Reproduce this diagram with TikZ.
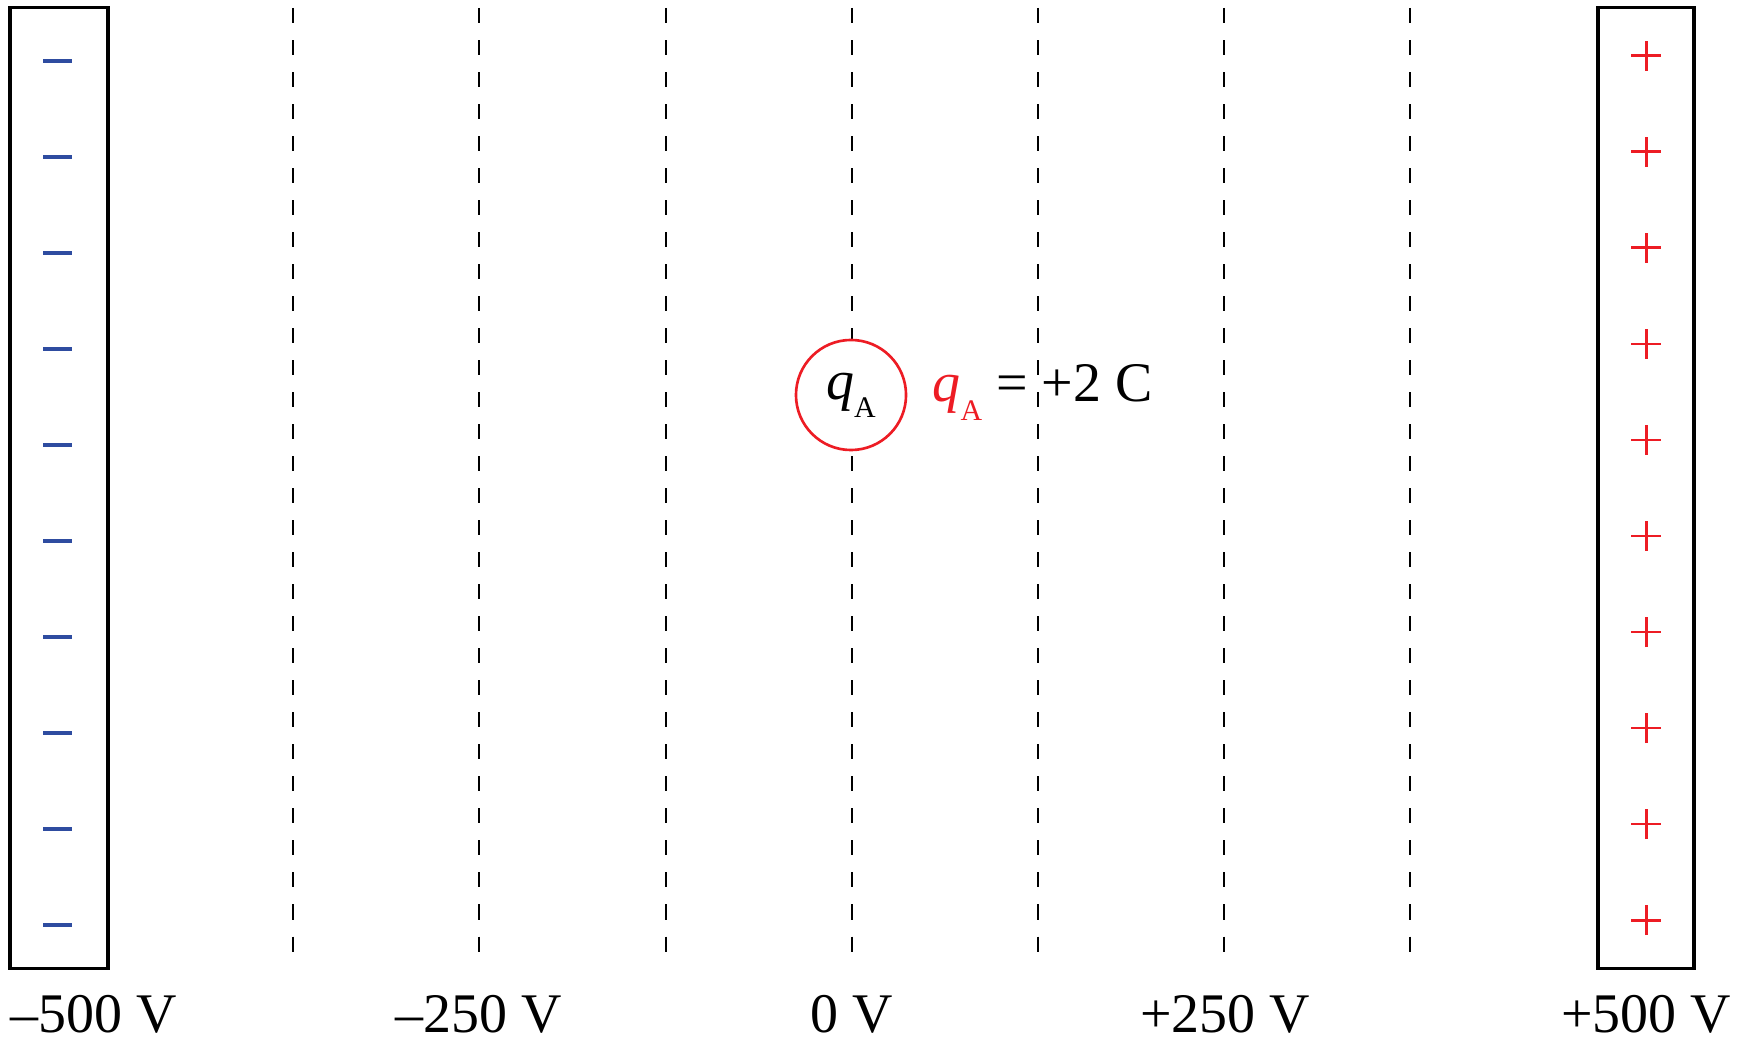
\documentclass[tikz,border=0pt]{standalone}
\usepackage{fontspec}
\setmainfont{Liberation Serif}
\usetikzlibrary{positioning}
\definecolor{plusred}{RGB}{237,28,36}
\definecolor{minusblue}{RGB}{46,76,160}
\tikzset{
  plate/.style={draw=black,line width=0.9pt,inner sep=0pt},
  equip/.style={black,line width=0.7pt,dash pattern=on 0.15cm off 0.17cm},
  minussign/.style={minusblue,line width=0.95pt},
  plussign/.style={plusred,line width=0.85pt},
  charge/.style={circle,draw=plusred,fill=white,line width=0.75pt,
                 minimum size=1.1cm,inner sep=0pt},
  lab/.style={font=\fontsize{15.9}{18}\selectfont,inner sep=0pt},
}
\newcommand{\qA}{\textit{q}\raisebox{-0.18cm}{\fontsize{8.5}{10}\selectfont A}}

\begin{document}
\begin{tikzpicture}[x=0.01cm,y=0.01cm]
  \path[use as bounding box] (0,0) rectangle (1752,1039);

  % equipotential lines
  \foreach \xx in {293,479,666,852,1038,1224,1410}
    \draw[equip] (\xx,1031) -- (\xx,87);

  % plates
  \node[plate,minimum width=0.98cm,minimum height=9.6cm] (neg) at (59,551) {};
  \node[plate,minimum width=0.96cm,minimum height=9.6cm] (pos) at (1646,551) {};
  \foreach \k in {0,...,9}{
    \draw[minussign] (43,978-96*\k) -- (72,978-96*\k);
    \draw[plussign] (1631,983-96*\k) -- (1661,983-96*\k);
    \draw[plussign] (1646,968-96*\k) -- (1646,998-96*\k);
  }

  % test charge
  \node[charge,lab] (qA) at (851,644) {\qA};
  \node[lab,anchor=base west] (qAval) at (932,637)
    {\textcolor{plusred}{\qA} = +2 C};

  % potentials
  \node[lab,anchor=base west] (vA) at (10,7) {–500 V};
  \foreach \xx/\txt/\nm in {479/{–250 V}/vB,852/{0 V}/vC,1225/{+250 V}/vD,1646/{+500 V}/vE}
    \node[lab,anchor=base] (\nm) at (\xx,7) {\txt};
\end{tikzpicture}
\end{document}
